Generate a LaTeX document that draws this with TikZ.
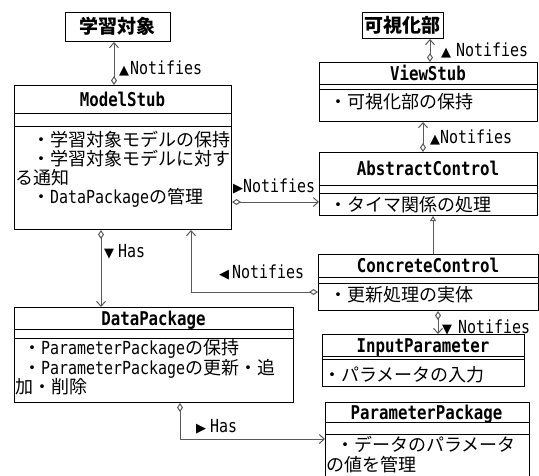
\documentclass[tikz,border=0pt]{standalone}
\usepackage{fontspec}
\setmainfont{Noto Sans CJK JP}
\newfontfamily\en[FakeStretch=0.83]{DejaVu Sans Mono}
\newfontfamily\symf{DejaVu Sans}
\usetikzlibrary{arrows.meta}
\definecolor{linegray}{RGB}{90,90,90}
\newcommand\tri[1]{{\symf\fontsize{13pt}{13pt}\selectfont #1}}
\begin{document}
\begin{tikzpicture}[x=1pt,y=-1pt,
  box/.style={draw=black, line width=1pt, inner sep=0pt, anchor=north west},
  sep/.style={draw=black, line width=1pt},
  conn/.style={draw=linegray, line width=1pt},
  assoc/.style={conn, {Diamond[open,length=9pt,width=6pt]}-{Straight Barb[length=5pt,width=9pt]}},
  gen/.style={conn, -{Triangle[open,length=5pt,width=6pt]}},
  txt/.style={inner sep=0pt, anchor=base west, font=\fontsize{18pt}{18pt}\selectfont},
  ttl/.style={inner sep=0pt, anchor=base, font=\fontsize{19pt}{19pt}\selectfont\bfseries},
  lbl/.style={inner sep=0pt, anchor=base west, font=\fontsize{18pt}{18pt}\selectfont\en},
]
\useasboundingbox[fill=white] (0,0) rectangle (539,475);

% boxes
\node[box, minimum width=105pt, minimum height=29pt] (lo) at (65,12) {};
\node[box, minimum width=217pt, minimum height=144pt] (ms) at (14,85) {};
\node[box, minimum width=279pt, minimum height=95pt] (dp) at (14,307) {};
\node[box, minimum width=81pt, minimum height=26pt] (kb) at (362,12) {};
\node[box, minimum width=218pt, minimum height=59pt] (vs) at (319,62) {};
\node[box, minimum width=218pt, minimum height=63pt] (ac) at (319,152) {};
\node[box, minimum width=220pt, minimum height=56pt] (cc) at (318,254) {};
\node[box, minimum width=202pt, minimum height=52pt] (ip) at (322,334) {};
\node[box, draw=none, minimum width=203pt, minimum height=80pt] (pp) at (325,402) {};
\draw[sep] (pp.south west) -- (pp.north west) -- (pp.north east) -- (pp.south east);

% separators
\draw[sep] (ms.west |- 0,113) -- (ms.east |- 0,113);
\draw[sep] (ms.west |- 0,126) -- (ms.east |- 0,126);
\draw[sep] (dp.west |- 0,329) -- (dp.east |- 0,329);
\draw[sep] (dp.west |- 0,338) -- (dp.east |- 0,338);
\draw[sep] (vs.west |- 0,84) -- (vs.east |- 0,84);
\draw[sep] (vs.west |- 0,89) -- (vs.east |- 0,89);
\draw[sep] (ac.west |- 0,185) -- (ac.east |- 0,185);
\draw[sep] (ac.west |- 0,193) -- (ac.east |- 0,193);
\draw[sep] (cc.west |- 0,277) -- (cc.east |- 0,277);
\draw[sep] (cc.west |- 0,283) -- (cc.east |- 0,283);
\draw[sep] (ip.west |- 0,356) -- (ip.east |- 0,356);
\draw[sep] (ip.west |- 0,359) -- (ip.east |- 0,359);
\draw[sep] (pp.west |- 0,422) -- (pp.east |- 0,422);
\draw[sep] (pp.west |- 0,434) -- (pp.east |- 0,434);

% titles
\node[ttl] (loT) at (117.5,33.5) {学習対象};
\node[ttl] (kbT) at (402.5,32.3) {可視化部};
\node[ttl] (msT) at (122.5,106) {\en ModelStub};
\node[ttl] (vsT) at (428,80) {\en ViewStub};
\node[ttl] (acT) at (428,175.5) {\en AbstractControl};
\node[ttl] (ccT) at (428,272.5) {\en ConcreteControl};
\node[ttl] (ipT) at (423,352) {\en InputParameter};
\node[ttl] (dpT) at (153.5,325) {\en DataPackage};
\node[ttl] (ppT) at (426.5,419) {\en ParameterPackage};

% operations
\node[txt] (ms1) at (32,146.8) {・学習対象モデルの保持};
\node[txt] (ms2) at (32,165.8) {・学習対象モデルに対す};
\node[txt] (ms3) at (15,184.8) {る通知};
\node[txt] (ms4) at (32,203.8) {・{\en DataPackage}の管理};
\node[txt] (dp1) at (23,354.8) {・{\en ParameterPackage}の保持};
\node[txt] (dp2) at (23,374.8) {・{\en ParameterPackage}の更新・追};
\node[txt] (dp3) at (15,393.8) {加・削除};
\node[txt] (vs1) at (329,108.8) {・可視化部の保持};
\node[txt] (ac1) at (329,211.8) {・タイマ関係の処理};
\node[txt] (cc1) at (329,301.8) {・更新処理の実体};
\node[txt] (ip1) at (323,381.8) {・パラメータの入力};
\node[txt] (pp1) at (336,451.8) {・データのパラメータ};
\node[txt] (pp2) at (326,471.8) {の値を管理};

% connectors
\draw[assoc] (114,0 |- ms.north) -- (114,0 |- lo.south);
\draw[assoc] (430,0 |- vs.north) -- (430,0 |- kb.south);
\draw[assoc] (423,0 |- ac.north) -- (423,0 |- vs.south);
\draw[assoc] (ms.east |- 0,202) -- (ac.west |- 0,202);
\draw[assoc] (cc.west |- 0,292) -| (191,0 |- ms.south);
\draw[assoc] (101,0 |- ms.south) -- (101,0 |- dp.north);
\draw[assoc] (180,0 |- dp.south) |- (pp.west |- 0,439);
\draw[assoc] (438,0 |- cc.south) -- (438,0 |- ip.north);
\draw[gen] (433,0 |- cc.north) -- (433,0 |- ac.south);

% labels
\node[lbl] (l1) at (119,74.5) {\tri{▲}\hspace{1pt}Notifies};
\node[lbl] (l2) at (441,56.5) {\tri{▲}\hspace{5pt}Notifies};
\node[lbl] (l3) at (430,143.5) {\tri{▲}Notifies};
\node[lbl] (l4) at (233,192.5) {\tri{▶}Notifies};
\node[lbl] (l5) at (219,278.5) {\tri{◀}\hspace{3pt}Notifies};
\node[lbl] (l6) at (104,257.5) {\tri{▼}\hspace{4pt}Has};
\node[lbl] (l7) at (196,432.5) {\tri{▶}\hspace{4pt}Has};
\node[lbl] (l8) at (442,333.5) {\tri{▼}\hspace{6pt}Notifies};
\end{tikzpicture}
\end{document}
